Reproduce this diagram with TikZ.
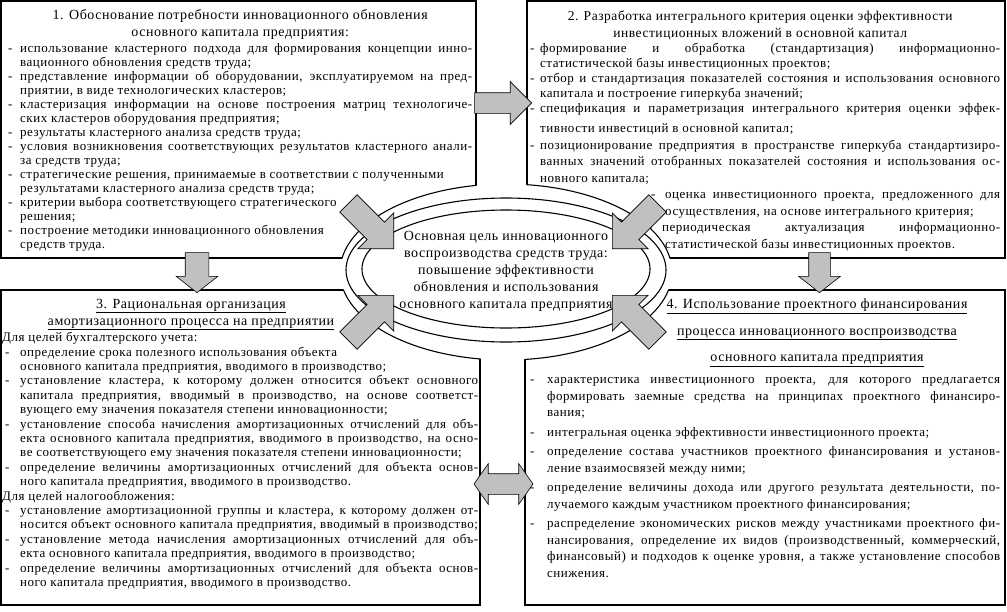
\documentclass[tikz,border=0pt]{standalone}
\usepackage{fontspec}
\setmainfont{Liberation Serif}[LetterSpace=4]
\usetikzlibrary{shapes.arrows}

\definecolor{arrfill}{RGB}{192,192,192}

% one printed line each: item start / continuation, justified or ragged
\newlength{\dashw}
\newcommand{\blk}[2]{\vbox{\hsize=#1\relax\hbox{}#2}}
\newcommand{\itj}[2][0pt]{\hbox to\hsize{\hspace*{#1}\makebox[\dashw][l]{-}#2}}
\newcommand{\itr}[2][0pt]{\hbox to\hsize{\hspace*{#1}\makebox[\dashw][l]{-}#2\hfil}}
\newcommand{\cnj}[2][\dashw]{\hbox to\hsize{\hspace*{#1}#2}}
\newcommand{\cnr}[2][\dashw]{\hbox to\hsize{\hspace*{#1}#2\hfil}}
\newcommand{\midln}[1]{\hbox to\hsize{\hfil#1\hfil}}

\begin{document}
\begin{tikzpicture}[
  x=1pt, y=-1pt,
  boxline/.style={draw=black, line width=1.1pt},
  body/.style={anchor=north west, inner sep=0pt},
  head/.style={anchor=north, inner sep=0pt},
  arr/.style={single arrow, draw=black, line width=0.6pt, fill=arrfill, inner xsep=0pt, anchor=tip, single arrow head indent=0pt},
  vert/.style={arr, rotate=-90, minimum height=40pt, inner ysep=11.5pt, single arrow head extend=9pt, single arrow tip angle=104},
  diag/.style={arr, minimum height=64pt, inner ysep=12pt, single arrow head extend=13pt, single arrow tip angle=90}
]
\useasboundingbox (0,0) rectangle (1007,611);

% four blocks
\draw[boxline, fill=white] (1,1) rectangle (476,258);
\draw[boxline, fill=white] (527,1) rectangle (1005,258);
\draw[boxline, fill=white] (1,290) rectangle (480,605);
\draw[boxline, fill=white] (525,290) rectangle (1005,605);

% corners cut by the big ellipse
\fill[white] (506,272) ellipse [x radius=166pt, y radius=88pt];
\begin{scope}
  \clip (0,0) rectangle (476.6,258.6) (526.4,0) rectangle (1007,258.6)
        (0,289.4) rectangle (480.6,611) (524.4,289.4) rectangle (1007,611);
  \draw[boxline] (506,272) ellipse [x radius=166pt, y radius=88pt];
\end{scope}
\draw[line width=1.1pt] (506,270) ellipse [x radius=160pt, y radius=72pt];
\draw[line width=1.1pt] (506,269) ellipse [x radius=144pt, y radius=59pt];

% texts
\node[body, font=\fontsize{13}{14}\selectfont] (b1) at (8,5) {\blk{464pt}{%
  \setlength{\dashw}{12pt}%
  \midln{\fontsize{14}{14}\selectfont 1. Обоснование потребности инновационного обновления}\kern3pt
  \midln{\fontsize{14}{14}\selectfont основного капитала предприятия:}\kern2pt
  \itj{использование кластерного подхода для формирования концепции инно-}
  \cnr{вационного обновления средств труда;}
  \itj{представление информации об оборудовании, эксплуатируемом на пред-}
  \cnr{приятии, в виде технологических кластеров;}
  \itj{кластеризация информации на основе построения матриц технологиче-}
  \cnr{ских кластеров оборудования предприятия;}
  \itr{результаты кластерного анализа средств труда;}
  \itj{условия возникновения соответствующих результатов кластерного анали-}
  \cnr{за средств труда;}
  \itr{стратегические решения, принимаемые в соответствии с полученными}
  \cnr{результатами кластерного анализа средств труда;}
  \itr{критерии выбора соответствующего стратегического}
  \cnr{решения;}
  \itr{построение методики инновационного обновления}
  \cnr{средств труда.}}};

\node[body, font=\fontsize{13}{15}\selectfont] (b2) at (530,5) {\blk{470pt}{%
  \setlength{\dashw}{10pt}%
  \midln{\fontsize{13.5}{15}\selectfont 2. Разработка интегрального критерия оценки эффективности\hspace*{10pt}}\kern2pt
  \midln{\fontsize{13.5}{15}\selectfont инвестиционных вложений в основной капитал\hspace*{10pt}}
  \itj{формирование и обработка (стандартизация) информационно-}
  \cnr{статистической базы инвестиционных проектов;}
  \itj{отбор и стандартизация показателей состояния и использования основного}
  \cnr{капитала и построение гиперкуба значений;}
  \itj{спецификация и параметризация интегрального критерия оценки эффек-}
  \baselineskip=16.5pt\kern4pt
  \cnr{тивности инвестиций в основной капитал;}
  \itj{позиционирование предприятия в пространстве гиперкуба стандартизиро-}
  \cnj{ванных значений отобранных показателей состояния и использования ос-}
  \cnr{новного капитала;}
  \setlength{\dashw}{14pt}%
  \itj[121pt]{оценка инвестиционного проекта, предложенного для}
  \cnr[135pt]{осуществления, на основе интегрального критерия;}
  \itj[118pt]{периодическая актуализация информационно-}
  \cnr[135pt]{статистической базы инвестиционных проектов.}}};

\node[head, font=\fontsize{14}{17}\selectfont] (t3) at (191,291) {\blk{330pt}{%
  \midln{\underline{3. Рациональная организация}}
  \midln{\underline{амортизационного процесса на предприятии}}}};

\node[body, font=\fontsize{13}{14.4}\selectfont] (b3) at (5,327.1) {\blk{473pt}{%
  \setlength{\dashw}{15pt}%
  \cnr[-3pt]{Для целей бухгалтерского учета:}
  \itr{определение срока полезного использования объекта}
  \cnr{основного капитала предприятия, вводимого в производство;}
  \itj{установление кластера, к которому должен относится объект основного}
  \cnj{капитала предприятия, вводимый в производство, на основе соответст-}
  \cnr{вующего ему значения показателя степени инновационности;}
  \itj{установление способа начисления амортизационных отчислений для объ-}
  \cnj{екта основного капитала предприятия, вводимого в производство, на осно-}
  \cnr{ве соответствующего ему значения показателя степени инновационности;}
  \itj{определение величины амортизационных отчислений для объекта основ-}
  \cnr{ного капитала предприятия, вводимого в производство.}
  \cnr[-3pt]{Для целей налогообложения:}
  \itj{установление амортизационной группы и кластера, к которому должен от-}
  \cnr{носится объект основного капитала предприятия, вводимый в производство;}
  \itj{установление метода начисления амортизационных отчислений для объ-}
  \cnr{екта основного капитала предприятия, вводимого в производство;}
  \itj{определение величины амортизационных отчислений для объекта основ-}
  \cnr{ного капитала предприятия, вводимого в производство.}}};

\node[head, font=\fontsize{14}{26.5}\selectfont] (t4) at (817,282) {\blk{380pt}{%
  \midln{\underline{4. Использование проектного финансирования}}
  \midln{\underline{процесса инновационного воспроизводства}}
  \midln{\underline{основного капитала предприятия}}}};

\node[body, font=\fontsize{13}{16.5}\selectfont] (b4) at (530,367) {\blk{470pt}{%
  \setlength{\dashw}{17pt}%
  \itj{характеристика инвестиционного проекта, для которого предлагается}
  \cnj{формировать заемные средства на принципах проектного финансиро-}
  \cnr{вания;}\kern3pt
  \itr{интегральная оценка эффективности инвестиционного проекта;}\kern3pt
  \itj{определение состава участников проектного финансирования и установ-}
  \cnr{ление взаимосвязей между ними;}\kern3pt
  \itj{определение величины дохода или другого результата деятельности, по-}
  \cnr{лучаемого каждым участником проектного финансирования;}\kern3pt
  \itj{распределение экономических рисков между участниками проектного фи-}
  \cnj{нансирования, определение их видов (производственный, коммерческий,}
  \cnj{финансовый) и подходов к оценке уровня, а также установление способов}
  \cnr{снижения.}}};

\node[head, font=\fontsize{14}{17}\selectfont] (goal) at (506,223.5) {\blk{270pt}{%
  \midln{Основная цель инновационного}
  \midln{воспроизводства средств труда:}
  \midln{повышение эффективности}
  \midln{обновления и использования}
  \midln{основного капитала предприятия}}};

% block arrows
\node[arr, minimum height=57pt, inner ysep=10pt, single arrow head extend=11pt] (a12) at (532,103) {};
\node[vert] (a13) at (197,293) {};
\node[vert, inner ysep=10.5pt, single arrow head extend=10pt] (a24) at (819.5,293) {};
\node[double arrow, draw=black, line width=0.6pt, fill=arrfill, inner xsep=0pt, inner ysep=10pt,
      minimum height=59pt, double arrow head extend=10pt, double arrow tip angle=110] (a34) at (503.5,484) {};
\node[diag, rotate=-45] (d1) at (394,249) {};
\node[diag, rotate=-135] (d2) at (612,249) {};
\node[diag, rotate=45] (d3) at (394,295) {};
\node[diag, rotate=135] (d4) at (612,295) {};
\end{tikzpicture}
\end{document}
